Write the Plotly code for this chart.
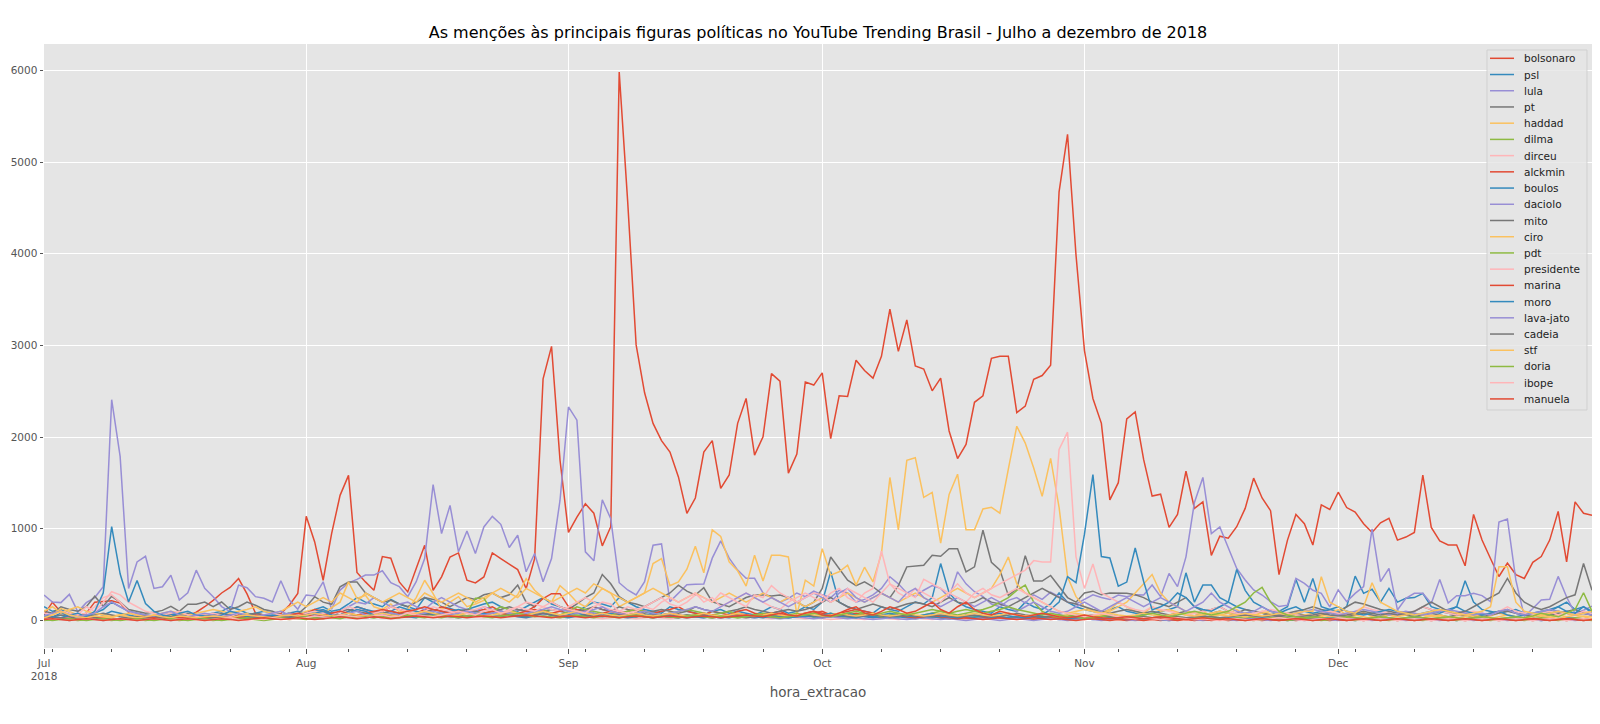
import pandas as pd
import plotly.graph_objects as go

dates = pd.date_range("2018-07-01", "2018-12-31", freq="D")

bolsonaro = [
    60, 200, 90, 40, 50, 80, 200, 210, 215, 190,
    90, 60, 40, 50, 60, 70, 40, 50, 90, 150,
    220, 300, 360, 457, 290, 80, 60, 50, 76, 167,
    294, 1136, 857, 439, 947, 1365, 1583, 523, 421, 330,
    697, 679, 421, 312, 566, 820, 330, 476, 693, 737,
    439, 410, 475, 737, 675, 613, 555, 348, 675, 2636,
    2990, 1750, 960, 1127, 1273, 1170, 814, 1023, 5983, 4572,
    3006, 2484, 2150, 1962, 1837, 1566, 1169, 1336, 1837, 1962,
    1440, 1587, 2150, 2422, 1804, 2004, 2693, 2610, 1607, 1816,
    2601, 2568, 2701, 1983, 2451, 2443, 2839, 2726, 2643, 2881,
    3395, 2935, 3278, 2777, 2743, 2505, 2643, 2067, 1766, 1921,
    2380, 2451, 2860, 2881, 2881, 2267, 2338, 2630, 2672, 2785,
    4676, 5303, 3987, 2944, 2422, 2150, 1315, 1503, 2200, 2276,
    1754, 1357, 1378, 1015, 1157, 1628, 1223, 1294, 710, 919,
    898, 1023, 1223, 1553, 1336, 1198, 501, 877, 1157, 1056,
    823, 1261, 1211, 1399, 1232, 1182, 1056, 960, 1065, 1115,
    877, 910, 960, 1587, 1015, 868, 823, 823, 597, 1157,
    877, 676, 480, 626, 501, 459, 635, 697, 877, 1190,
    639, 1294, 1169, 1148]

psl = [
    150, 100, 120, 80, 60, 50, 80, 120, 200, 150,
    100, 80, 60, 50, 40, 60, 80, 50, 40, 60,
    80, 100, 150, 120, 80, 60, 50, 40, 60, 80,
    100, 80, 120, 150, 100, 120, 180, 250, 200, 180,
    150, 230, 180, 150, 120, 250, 200, 150, 130, 100,
    120, 150, 180, 200, 150, 120, 100, 150, 200, 250,
    180, 150, 120, 100, 150, 200, 180, 150, 250, 200,
    150, 120, 100, 80, 150, 120, 100, 80, 60, 100,
    120, 80, 100, 80, 60, 100, 150, 120, 80, 100,
    150, 120, 200, 531, 200, 150, 120, 100, 80, 150,
    120, 100, 150, 200, 180, 250, 621, 300, 200, 150,
    120, 100, 80, 150, 120, 100, 200, 150, 120, 180,
    300, 200, 150, 120, 100, 80, 120, 150, 100, 80,
    60, 80, 100, 120, 150, 520, 200, 386, 386, 250,
    200, 150, 120, 100, 80, 60, 100, 150, 447, 200,
    459, 150, 120, 100, 150, 484, 296, 340, 200, 350,
    200, 242, 250, 296, 150, 120, 100, 150, 433, 200,
    120, 100, 80, 100, 120, 80, 60, 80, 100, 150,
    200, 120, 150, 80]

lula = [
    278, 202, 195, 285, 94, 195, 250, 368, 2408, 1790,
    350, 639, 700, 350, 368, 494, 224, 303, 549, 350,
    260, 152, 97, 386, 357, 260, 242, 202, 433, 224,
    123, 278, 267, 422, 123, 332, 411, 448, 495, 495,
    542, 412, 369, 260, 423, 676, 1483, 948, 1255, 749,
    977, 731, 1020, 1136, 1049, 796, 930, 532, 731, 423,
    676, 1309, 2329, 2185, 749, 651, 1317, 1110, 412, 333,
    278, 423, 821, 835, 206, 300, 390, 395, 398, 680,
    868, 680, 550, 460, 460, 300, 250, 200, 240, 300,
    260, 320, 280, 250, 330, 300, 200, 230, 280, 350,
    477, 400, 300, 260, 330, 380, 350, 250, 531, 400,
    314, 260, 180, 150, 220, 250, 190, 280, 230, 310,
    260, 200, 180, 230, 280, 250, 230, 278, 260, 280,
    278, 387, 260, 513, 369, 694, 1288, 1560, 948, 1020,
    800, 568, 441, 333, 278, 206, 152, 167, 459, 405,
    329, 296, 148, 333, 206, 296, 369, 999, 423, 568,
    115, 242, 296, 296, 185, 447, 191, 271, 271, 296,
    271, 206, 1074, 1107, 441, 43, 130, 224, 231, 481,
    256, 76, 112, 155]

pt = [
    100, 80, 150, 120, 100, 150, 264, 155, 264, 200,
    120, 100, 80, 90, 110, 155, 100, 177, 177, 202,
    150, 202, 120, 150, 202, 166, 120, 100, 60, 80,
    70, 150, 260, 200, 177, 368, 419, 420, 300, 250,
    200, 220, 180, 150, 200, 250, 230, 200, 150, 200,
    250, 230, 280, 300, 250, 280, 386, 200, 150, 250,
    200, 150, 120, 180, 250, 300, 502, 401, 260, 200,
    180, 150, 200, 250, 300, 386, 321, 278, 357, 202,
    180, 150, 200, 250, 278, 278, 267, 278, 250, 200,
    150, 200, 350, 693, 567, 440, 380, 422, 368, 296,
    250, 380, 585, 592, 603, 711, 700, 783, 783, 531,
    585, 985, 635, 552, 274, 346, 707, 430, 430, 491,
    372, 250, 200, 300, 320, 280, 300, 300, 296, 280,
    250, 200, 180, 150, 200, 250, 150, 100, 120, 150,
    100, 80, 120, 100, 80, 60, 50, 80, 100, 120,
    150, 120, 100, 80, 150, 200, 180, 150, 120, 100,
    80, 60, 100, 150, 120, 100, 80, 60, 50, 40,
    60, 80, 100, 120, 80, 60, 40, 50, 60, 80,
    100, 120, 80, 60]

haddad = [
    20, 60, 130, 100, 60, 40, 30, 40, 50, 60,
    40, 30, 60, 40, 30, 50, 40, 30, 40, 60,
    50, 40, 30, 60, 80, 40, 30, 50, 40, 80,
    60, 100, 120, 80, 140, 200, 421, 240, 276, 150,
    120, 180, 90, 120, 250, 439, 294, 120, 200, 260,
    150, 180, 220, 300, 250, 200, 280, 457, 330, 250,
    200, 380, 300, 200, 150, 250, 350, 300, 150, 200,
    250, 300, 621, 675, 380, 420, 560, 809, 520, 989,
    917, 639, 542, 375, 711, 430, 711, 711, 693, 61,
    440, 375, 783, 495, 531, 603, 386, 581, 422, 729,
    1560, 989, 1747, 1776, 1343, 1397, 845, 1375, 1596, 989,
    989, 1216, 1235, 1170, 1650, 2119, 1935, 1664, 1354, 1769,
    1235, 477, 260, 150, 100, 80, 120, 200, 150, 100,
    80, 150, 100, 120, 90, 60, 80, 100, 50, 60,
    80, 120, 60, 40, 100, 70, 50, 80, 60, 40,
    60, 40, 80, 120, 60, 50, 90, 40, 30, 60,
    40, 80, 50, 30, 60, 40, 30, 50, 70, 40,
    30, 50, 80, 60, 40, 30, 50, 40, 30, 60,
    40, 30, 50, 40]

dilma = [
    10, 20, 30, 20, 10, 20, 40, 30, 20, 10,
    20, 30, 20, 10, 20, 30, 40, 30, 20, 30,
    40, 30, 20, 30, 40, 30, 20, 30, 20, 10,
    20, 30, 40, 50, 40, 30, 50, 60, 40, 30,
    40, 60, 50, 40, 60, 80, 60, 40, 50, 60,
    80, 242, 242, 100, 60, 80, 60, 40, 60, 80,
    60, 40, 60, 80, 120, 80, 60, 40, 60, 50,
    40, 60, 50, 40, 30, 40, 60, 50, 40, 30,
    40, 50, 30, 40, 60, 50, 40, 30, 40, 50,
    60, 40, 30, 50, 40, 30, 40, 60, 50, 40,
    30, 40, 50, 40, 30, 40, 50, 60, 40, 30,
    40, 50, 60, 40, 30, 40, 50, 40, 30, 40,
    30, 40, 50, 30, 20, 30, 40, 30, 20, 30,
    40, 30, 20, 30, 40, 30, 20, 30, 40, 30,
    20, 30, 40, 30, 20, 30, 40, 30, 20, 30,
    40, 30, 20, 30, 40, 30, 20, 10, 20, 30,
    20, 30, 40, 30, 20, 30, 20, 10, 20, 30,
    20, 10, 20, 30, 20, 10, 20, 30, 20, 10,
    20, 30, 20, 10]

dirceu = [
    20, 30, 20, 40, 60, 80, 150, 250, 280, 200,
    100, 60, 40, 30, 20, 30, 20, 10, 20, 30,
    20, 10, 20, 30, 40, 30, 20, 30, 40, 30,
    20, 30, 40, 50, 40, 30, 40, 50, 60, 40,
    30, 40, 50, 40, 30, 50, 60, 40, 30, 40,
    50, 40, 30, 40, 60, 50, 40, 30, 40, 50,
    40, 30, 40, 50, 40, 30, 20, 30, 40, 30,
    20, 30, 40, 30, 20, 30, 40, 50, 40, 30,
    40, 50, 40, 30, 40, 30, 20, 30, 40, 30,
    20, 30, 20, 10, 20, 30, 20, 10, 20, 30,
    20, 10, 20, 30, 20, 10, 20, 30, 20, 10,
    20, 10, 20, 30, 20, 10, 20, 30, 20, 10,
    20, 30, 20, 10, 20, 30, 20, 10, 20, 30,
    20, 10, 20, 30, 20, 10, 0, 10, 20, 10,
    0, 10, 20, 10, 0, 10, 20, 10, 0, 10,
    20, 10, 0, 10, 20, 10, 0, 10, 20, 10,
    0, 10, 20, 10, 0, 10, 20, 10, 0, 10,
    20, 10, 0, 10, 20, 10, 0, 10, 20, 10,
    0, 10, 20, 10]

alckmin = [
    20, 10, 30, 20, 10, 20, 30, 20, 10, 20,
    30, 20, 10, 20, 30, 40, 30, 20, 30, 40,
    50, 40, 30, 60, 50, 40, 30, 50, 60, 40,
    50, 80, 120, 100, 80, 60, 100, 150, 120, 80,
    100, 150, 120, 100, 80, 120, 100, 150, 120, 100,
    80, 100, 120, 150, 100, 80, 120, 100, 150, 240,
    293, 293, 150, 120, 100, 150, 120, 100, 80, 100,
    120, 100, 80, 100, 120, 150, 100, 80, 60, 100,
    80, 60, 100, 120, 80, 60, 80, 100, 60, 40,
    60, 80, 100, 60, 40, 60, 80, 60, 40, 30,
    40, 60, 40, 30, 50, 40, 30, 20, 40, 30,
    20, 30, 40, 30, 20, 30, 20, 10, 20, 30,
    20, 10, 20, 30, 20, 10, 20, 10, 0, 10,
    20, 10, 0, 10, 20, 10, 0, 10, 20, 10,
    0, 10, 20, 10, 0, 10, 20, 10, 0, 10,
    20, 10, 0, 10, 20, 10, 0, 10, 20, 10,
    0, 10, 20, 10, 0, 10, 20, 10, 0, 10,
    20, 10, 0, 10, 20, 10, 0, 10, 20, 10,
    0, 10, 20, 10]

boulos = [
    60, 40, 80, 60, 40, 60, 80, 60, 100, 80,
    60, 40, 30, 40, 60, 80, 60, 40, 30, 40,
    60, 80, 60, 40, 60, 80, 100, 80, 60, 40,
    60, 80, 100, 120, 80, 60, 100, 150, 120, 100,
    80, 100, 150, 120, 100, 80, 60, 80, 100, 120,
    100, 80, 60, 80, 100, 80, 60, 40, 60, 80,
    60, 40, 60, 80, 60, 40, 60, 80, 60, 40,
    60, 40, 30, 40, 60, 40, 30, 40, 60, 40,
    30, 40, 60, 40, 30, 40, 60, 40, 30, 40,
    60, 40, 30, 40, 60, 80, 60, 40, 30, 40,
    30, 40, 30, 20, 30, 40, 30, 20, 30, 40,
    30, 20, 30, 40, 30, 20, 30, 40, 30, 20,
    10, 20, 30, 20, 10, 20, 30, 20, 10, 20,
    30, 20, 10, 0, 10, 20, 30, 20, 10, 20,
    30, 20, 10, 20, 30, 20, 10, 0, 10, 20,
    10, 20, 30, 20, 10, 0, 10, 20, 30, 20,
    10, 20, 30, 20, 10, 20, 10, 0, 10, 20,
    30, 20, 10, 20, 30, 20, 10, 0, 10, 20,
    30, 20, 10, 20]

daciolo = [
    10, 20, 10, 0, 10, 20, 10, 0, 10, 20,
    10, 0, 10, 20, 10, 0, 10, 20, 30, 20,
    30, 40, 30, 20, 40, 60, 40, 30, 50, 80,
    60, 40, 60, 80, 60, 100, 150, 200, 180, 250,
    200, 150, 180, 200, 150, 120, 200, 250, 200, 150,
    120, 100, 150, 120, 100, 80, 120, 100, 80, 60,
    80, 60, 50, 80, 100, 80, 60, 50, 80, 60,
    50, 40, 60, 50, 40, 30, 50, 40, 30, 40,
    30, 40, 60, 40, 30, 40, 30, 20, 30, 40,
    30, 20, 30, 40, 30, 20, 30, 20, 10, 20,
    30, 20, 10, 20, 30, 20, 10, 20, 10, 0,
    10, 20, 10, 0, 10, 20, 10, 0, 10, 20,
    10, 0, 10, 20, 10, 0, 10, 20, 10, 0,
    10, 20, 10, 0, 10, 20, 10, 0, 10, 20,
    10, 0, 10, 20, 10, 0, 10, 20, 10, 0,
    10, 20, 10, 0, 10, 20, 10, 0, 10, 20,
    10, 0, 10, 20, 10, 0, 10, 20, 10, 0,
    10, 20, 10, 0, 10, 20, 10, 0, 10, 20,
    10, 0, 10, 20]

mito = [
    20, 40, 60, 40, 20, 40, 60, 80, 60, 40,
    30, 40, 60, 40, 30, 40, 60, 80, 60, 40,
    60, 80, 60, 40, 60, 80, 60, 40, 30, 40,
    60, 80, 60, 40, 60, 100, 120, 100, 80, 60,
    80, 100, 80, 60, 80, 100, 120, 100, 80, 100,
    120, 100, 80, 100, 120, 150, 120, 100, 80, 100,
    120, 100, 80, 100, 120, 150, 120, 100, 150, 120,
    100, 80, 100, 120, 100, 80, 100, 150, 120, 100,
    80, 100, 120, 150, 120, 100, 80, 100, 120, 100,
    120, 150, 200, 250, 200, 150, 120, 150, 180, 150,
    120, 150, 180, 200, 180, 150, 200, 250, 200, 180,
    200, 250, 200, 180, 150, 200, 250, 300, 350, 300,
    250, 200, 180, 150, 120, 100, 80, 100, 120, 100,
    80, 100, 80, 60, 80, 100, 80, 60, 80, 100,
    80, 60, 80, 100, 80, 60, 40, 60, 80, 60,
    40, 60, 80, 60, 40, 60, 80, 60, 40, 60,
    80, 60, 40, 60, 80, 60, 40, 60, 80, 60,
    40, 60, 80, 100, 80, 60, 40, 60, 80, 100,
    80, 60, 80, 60]

ciro = [
    100, 150, 80, 120, 150, 100, 80, 60, 40, 60,
    80, 60, 40, 60, 80, 100, 80, 60, 80, 100,
    120, 100, 80, 100, 120, 150, 100, 80, 100, 150,
    200, 150, 200, 250, 200, 300, 250, 200, 300, 250,
    200, 250, 300, 250, 200, 300, 250, 200, 250, 300,
    250, 200, 250, 300, 350, 300, 250, 350, 300, 250,
    200, 250, 300, 350, 300, 400, 350, 300, 250, 200,
    250, 300, 350, 300, 250, 200, 250, 300, 250, 200,
    250, 300, 250, 200, 250, 300, 250, 200, 250, 200,
    150, 200, 250, 200, 250, 300, 250, 200, 250, 300,
    250, 200, 250, 300, 250, 200, 250, 300, 350, 300,
    250, 300, 350, 500, 693, 400, 300, 250, 200, 150,
    100, 80, 100, 120, 100, 80, 100, 150, 200, 300,
    400, 502, 300, 200, 150, 100, 80, 60, 80, 100,
    80, 60, 40, 60, 80, 100, 80, 60, 40, 60,
    80, 60, 40, 60, 80, 60, 40, 20, 40, 60,
    40, 60, 80, 60, 40, 60, 40, 20, 40, 60,
    40, 20, 40, 60, 40, 20, 40, 60, 40, 20,
    40, 60, 40, 20]

pdt = [
    0, 10, 20, 10, 0, 10, 20, 10, 0, 10,
    20, 10, 0, 10, 20, 10, 0, 10, 20, 10,
    0, 10, 20, 30, 20, 10, 0, 10, 20, 30,
    20, 10, 30, 40, 30, 20, 40, 60, 40, 30,
    50, 40, 30, 60, 80, 60, 40, 30, 50, 60,
    40, 60, 80, 100, 150, 120, 80, 60, 100, 120,
    80, 60, 100, 150, 120, 100, 80, 60, 80, 100,
    120, 100, 80, 60, 80, 100, 120, 100, 80, 60,
    80, 100, 60, 40, 60, 80, 60, 40, 60, 80,
    60, 40, 60, 80, 60, 40, 60, 80, 60, 40,
    60, 80, 60, 40, 60, 80, 100, 80, 60, 80,
    100, 120, 150, 200, 250, 329, 386, 200, 100, 60,
    40, 60, 40, 20, 40, 60, 40, 20, 30, 40,
    20, 30, 40, 20, 10, 20, 30, 20, 10, 20,
    10, 20, 10, 0, 10, 20, 10, 0, 10, 20,
    10, 0, 10, 20, 10, 0, 10, 20, 10, 0,
    10, 20, 10, 0, 10, 20, 10, 0, 10, 20,
    10, 0, 10, 20, 10, 0, 10, 20, 10, 0,
    10, 20, 10, 0]

presidente = [
    80, 60, 100, 80, 60, 150, 100, 200, 314, 280,
    200, 150, 100, 80, 60, 80, 100, 60, 40, 60,
    80, 60, 40, 80, 60, 40, 60, 80, 60, 40,
    60, 80, 100, 80, 60, 100, 150, 120, 100, 80,
    100, 150, 120, 100, 80, 100, 150, 120, 100, 80,
    100, 120, 150, 100, 80, 120, 150, 200, 180, 150,
    120, 100, 150, 200, 250, 200, 150, 120, 100, 80,
    100, 150, 120, 200, 250, 200, 250, 300, 200, 250,
    150, 200, 250, 300, 250, 200, 150, 120, 200, 250,
    300, 250, 200, 300, 350, 250, 200, 300, 350, 758,
    400, 300, 250, 350, 300, 250, 200, 300, 400, 300,
    250, 300, 350, 400, 450, 500, 550, 653, 639, 639,
    1866, 2054, 693, 350, 617, 300, 250, 200, 150, 120,
    100, 150, 120, 100, 80, 60, 80, 100, 120, 150,
    100, 80, 60, 80, 100, 120, 100, 80, 60, 50,
    60, 80, 100, 80, 60, 100, 150, 120, 100, 80,
    60, 80, 100, 150, 120, 100, 80, 60, 80, 100,
    80, 60, 100, 150, 100, 80, 60, 80, 100, 60,
    80, 60, 100, 80]

marina = [
    20, 30, 20, 10, 20, 30, 40, 30, 20, 10,
    20, 30, 40, 30, 20, 30, 40, 30, 20, 30,
    40, 30, 20, 30, 40, 60, 40, 30, 40, 60,
    80, 60, 40, 60, 80, 100, 80, 60, 80, 100,
    120, 100, 80, 100, 120, 150, 120, 100, 80, 100,
    80, 60, 80, 100, 80, 60, 80, 100, 120, 100,
    80, 100, 120, 100, 80, 60, 80, 100, 80, 60,
    80, 60, 40, 60, 80, 60, 40, 60, 80, 60,
    40, 60, 80, 60, 40, 60, 80, 60, 40, 60,
    80, 100, 80, 60, 80, 100, 120, 100, 80, 60,
    40, 60, 40, 30, 40, 60, 40, 30, 20, 30,
    20, 10, 20, 30, 20, 10, 20, 30, 20, 10,
    20, 10, 0, 10, 20, 10, 0, 10, 20, 10,
    0, 10, 20, 10, 0, 10, 20, 10, 0, 10,
    20, 10, 0, 10, 20, 10, 0, 10, 20, 10,
    0, 10, 20, 10, 0, 10, 20, 10, 0, 10,
    20, 10, 0, 10, 20, 10, 0, 10, 20, 10,
    0, 10, 20, 10, 0, 10, 20, 10, 0, 10,
    20, 10, 0, 10]

moro = [
    50, 40, 30, 60, 80, 40, 100, 300, 1025, 509,
    202, 437, 184, 100, 60, 40, 80, 100, 60, 50,
    40, 60, 100, 80, 40, 30, 50, 60, 40, 30,
    40, 60, 80, 100, 60, 40, 80, 120, 100, 60,
    50, 80, 60, 40, 30, 60, 80, 50, 40, 30,
    40, 60, 80, 50, 40, 60, 40, 30, 50, 80,
    60, 40, 30, 50, 40, 60, 80, 50, 40, 30,
    40, 60, 80, 50, 40, 30, 50, 40, 30, 50,
    40, 30, 50, 60, 40, 30, 50, 40, 30, 40,
    50, 40, 60, 80, 50, 40, 30, 50, 40, 60,
    80, 60, 50, 40, 60, 80, 50, 40, 30, 60,
    50, 40, 60, 80, 50, 40, 30, 50, 60, 120,
    200, 477, 412, 942, 1592, 697, 682, 375, 419, 791,
    426, 116, 150, 200, 300, 250, 150, 120, 100, 150,
    200, 556, 329, 200, 150, 100, 80, 120, 150, 100,
    80, 100, 120, 150, 100, 80, 60, 80, 100, 120,
    100, 80, 60, 80, 100, 80, 120, 150, 100, 80,
    60, 80, 100, 60, 40, 60, 80, 100, 120, 150,
    100, 80, 150, 100]

lava_jato = [
    50, 80, 100, 60, 40, 60, 80, 150, 200, 150,
    100, 80, 60, 50, 80, 100, 60, 40, 60, 80,
    60, 40, 60, 80, 60, 40, 60, 80, 100, 60,
    40, 60, 80, 60, 40, 60, 80, 100, 60, 40,
    60, 80, 60, 40, 60, 80, 100, 80, 60, 80,
    100, 80, 60, 80, 100, 80, 60, 80, 100, 120,
    150, 120, 100, 80, 100, 120, 150, 100, 80, 60,
    80, 100, 80, 60, 80, 100, 120, 150, 120, 100,
    150, 200, 250, 300, 250, 200, 250, 200, 150, 200,
    250, 300, 250, 200, 300, 350, 250, 200, 250, 300,
    250, 200, 300, 350, 250, 200, 150, 200, 250, 200,
    150, 200, 250, 200, 150, 100, 150, 200, 150, 100,
    80, 100, 150, 200, 150, 100, 150, 200, 250, 200,
    150, 200, 250, 200, 150, 100, 150, 200, 300, 200,
    150, 100, 80, 100, 150, 100, 80, 60, 80, 100,
    120, 100, 80, 60, 80, 100, 120, 100, 80, 60,
    80, 100, 80, 60, 80, 100, 120, 100, 80, 60,
    80, 60, 100, 120, 80, 60, 80, 100, 120, 100,
    80, 60, 80, 60]

cadeia = [
    10, 20, 30, 20, 10, 20, 30, 20, 10, 20,
    30, 40, 30, 20, 30, 40, 50, 40, 30, 20,
    30, 40, 30, 20, 30, 40, 30, 20, 30, 40,
    50, 40, 30, 40, 50, 60, 50, 40, 30, 40,
    50, 60, 50, 40, 50, 60, 80, 60, 50, 40,
    50, 60, 50, 40, 50, 60, 50, 40, 60, 80,
    60, 50, 40, 50, 60, 50, 40, 50, 60, 50,
    40, 50, 60, 50, 40, 50, 60, 50, 40, 30,
    40, 50, 40, 30, 40, 50, 40, 30, 40, 50,
    60, 50, 40, 50, 60, 50, 40, 50, 60, 50,
    40, 50, 60, 50, 40, 50, 60, 50, 40, 50,
    60, 50, 40, 50, 60, 80, 60, 50, 40, 50,
    60, 50, 40, 50, 60, 50, 40, 30, 40, 50,
    40, 30, 40, 50, 40, 30, 40, 50, 40, 30,
    40, 50, 60, 50, 40, 50, 60, 50, 40, 50,
    60, 80, 60, 50, 60, 80, 100, 80, 60, 80,
    60, 80, 100, 150, 200, 150, 100, 80, 100, 150,
    200, 250, 300, 459, 300, 200, 150, 120, 150, 200,
    250, 280, 621, 330]

stf = [
    30, 60, 100, 60, 40, 30, 50, 40, 30, 60,
    40, 30, 40, 60, 40, 30, 50, 40, 30, 40,
    50, 40, 30, 50, 60, 50, 40, 30, 50, 60,
    50, 60, 80, 60, 50, 60, 80, 60, 50, 60,
    80, 60, 50, 60, 80, 100, 80, 60, 50, 60,
    80, 60, 50, 60, 80, 100, 80, 60, 80, 100,
    80, 60, 80, 100, 80, 60, 80, 60, 50, 60,
    80, 60, 50, 60, 80, 60, 50, 60, 80, 60,
    50, 60, 80, 60, 50, 60, 80, 60, 50, 60,
    80, 60, 50, 60, 80, 60, 50, 60, 80, 60,
    50, 60, 80, 60, 50, 60, 80, 60, 50, 60,
    80, 60, 50, 60, 80, 60, 50, 60, 80, 60,
    50, 60, 80, 60, 50, 60, 80, 60, 50, 60,
    80, 60, 50, 60, 80, 60, 50, 60, 80, 60,
    50, 60, 80, 60, 50, 60, 80, 60, 80, 100,
    100, 477, 200, 150, 100, 80, 150, 412, 200, 150,
    100, 80, 60, 80, 100, 120, 100, 80, 60, 80,
    100, 150, 585, 585, 200, 100, 80, 60, 80, 100,
    80, 60, 80, 100]

doria = [
    10, 0, 10, 20, 10, 0, 10, 20, 10, 0,
    10, 20, 10, 0, 10, 20, 10, 0, 10, 20,
    10, 0, 10, 20, 30, 20, 10, 20, 30, 20,
    30, 40, 30, 20, 40, 50, 40, 30, 40, 50,
    40, 30, 50, 60, 40, 30, 50, 60, 40, 30,
    50, 60, 40, 30, 50, 60, 80, 60, 40, 50,
    40, 30, 50, 60, 40, 30, 50, 40, 30, 50,
    60, 40, 30, 50, 40, 30, 50, 60, 40, 30,
    50, 40, 30, 40, 60, 50, 40, 30, 40, 50,
    60, 80, 60, 40, 60, 80, 100, 80, 60, 80,
    100, 80, 60, 80, 100, 120, 100, 80, 100, 120,
    100, 80, 100, 120, 150, 120, 100, 80, 60, 80,
    60, 40, 60, 40, 30, 40, 60, 40, 30, 40,
    60, 80, 60, 40, 60, 80, 100, 80, 60, 80,
    100, 150, 200, 300, 361, 200, 100, 60, 40, 30,
    40, 30, 20, 30, 40, 30, 20, 30, 40, 30,
    20, 30, 40, 30, 20, 30, 40, 30, 20, 30,
    40, 30, 20, 30, 40, 30, 50, 80, 60, 40,
    80, 120, 303, 100]

ibope = [
    10, 20, 10, 0, 10, 20, 10, 0, 10, 20,
    10, 0, 10, 20, 10, 0, 10, 20, 10, 0,
    10, 20, 30, 10, 0, 20, 10, 30, 20, 10,
    20, 30, 50, 40, 30, 60, 50, 40, 30, 50,
    60, 40, 50, 80, 60, 50, 40, 60, 80, 100,
    80, 60, 100, 120, 80, 100, 150, 120, 100, 150,
    200, 150, 120, 100, 80, 150, 200, 180, 100, 150,
    120, 150, 200, 250, 180, 150, 200, 280, 250, 200,
    300, 250, 200, 150, 280, 250, 380, 300, 250, 200,
    250, 300, 280, 200, 250, 350, 300, 250, 200, 300,
    400, 350, 300, 250, 450, 400, 350, 300, 250, 200,
    300, 350, 280, 250, 300, 350, 300, 250, 200, 150,
    100, 80, 60, 40, 60, 80, 60, 40, 30, 20,
    30, 20, 10, 20, 30, 20, 10, 20, 10, 0,
    10, 20, 10, 0, 10, 20, 30, 20, 10, 0,
    10, 20, 10, 30, 20, 10, 0, 10, 20, 10,
    0, 10, 20, 10, 0, 10, 20, 10, 0, 10,
    20, 10, 0, 10, 20, 10, 0, 10, 20, 10,
    0, 10, 20, 10]

manuela = [
    10, 20, 10, 0, 10, 20, 10, 0, 10, 20,
    10, 0, 10, 20, 10, 0, 10, 20, 10, 0,
    10, 20, 10, 0, 10, 20, 30, 20, 10, 20,
    30, 20, 10, 20, 30, 40, 30, 20, 30, 40,
    30, 20, 30, 40, 50, 40, 30, 40, 50, 40,
    30, 40, 50, 40, 30, 40, 50, 60, 50, 40,
    30, 40, 50, 40, 30, 40, 50, 40, 30, 40,
    50, 40, 30, 40, 50, 40, 30, 40, 50, 40,
    30, 40, 50, 60, 50, 40, 60, 80, 60, 50,
    80, 100, 60, 50, 80, 120, 150, 80, 60, 100,
    150, 120, 80, 100, 150, 200, 120, 80, 150, 200,
    120, 80, 60, 100, 80, 60, 40, 60, 80, 60,
    40, 30, 40, 60, 40, 30, 20, 30, 40, 30,
    20, 30, 40, 30, 20, 10, 20, 30, 20, 10,
    20, 10, 0, 10, 20, 10, 0, 10, 20, 10,
    0, 10, 20, 10, 0, 10, 20, 10, 0, 10,
    20, 10, 0, 10, 20, 10, 0, 10, 20, 10,
    0, 10, 20, 10, 0, 10, 20, 10, 0, 10,
    20, 10, 0, 10]

series_names = ["bolsonaro", "psl", "lula", "pt", "haddad", "dilma", "dirceu",
                "alckmin", "boulos", "daciolo", "mito", "ciro", "pdt",
                "presidente", "marina", "moro", "lava-jato", "cadeia", "stf",
                "doria", "ibope", "manuela"]
series_values = [bolsonaro, psl, lula, pt, haddad, dilma, dirceu,
                 alckmin, boulos, daciolo, mito, ciro, pdt,
                 presidente, marina, moro, lava_jato, cadeia, stf,
                 doria, ibope, manuela]

palette = ["#E24A33", "#348ABD", "#988ED5", "#777777", "#FBC15E", "#8EBA42", "#FFB5B8"]

bad = [(n, len(v)) for n, v in zip(series_names, series_values) if len(v) != len(dates)]
if bad:
    raise SystemExit("length mismatch: %s (expected %d)" % (bad, len(dates)))

month_ticks = ["2018-07-01", "2018-08-01", "2018-09-01", "2018-10-01", "2018-11-01", "2018-12-01"]
month_labels = ["Jul<br>2018", "Aug", "Sep", "Oct", "Nov", "Dec"]
y_ticks = [0, 1000, 2000, 3000, 4000, 5000, 6000]

# The page body keeps its default 8px margin, so the figure is 8px smaller
# and all positions below are measured from that origin.
FIG_W, FIG_H = 1592, 716
M_L, M_R, M_T, M_B = 36, 8, 36, 76
PLOT_W = FIG_W - M_L - M_R
PLOT_H = FIG_H - M_T - M_B
font_family = "DejaVu Sans"


def px_x(px):
    return (px - M_L) / PLOT_W


def px_y(py):
    return (FIG_H - M_B - py) / PLOT_H


fig = go.Figure()
for i, (name, vals) in enumerate(zip(series_names, series_values)):
    fig.add_trace(go.Scatter(
        x=dates, y=vals, mode="lines", name=name, showlegend=False,
        line=dict(color=palette[i % len(palette)], width=1.5),
    ))

# legend box in the style of the matplotlib ggplot legend (compact rows)
LEG_L, LEG_R, LEG_T, LEG_B = 1479, 1579, 42, 402
ROW0, ROW_STEP = 50.3, 16.22
shapes = [dict(type="rect", xref="paper", yref="paper",
               x0=px_x(LEG_L), x1=px_x(LEG_R), y0=px_y(LEG_B), y1=px_y(LEG_T),
               fillcolor="rgba(229,229,229,0.8)",
               line=dict(color="rgba(204,204,204,0.8)", width=1), layer="above")]
annotations = []
for i, name in enumerate(series_names):
    yy = px_y(ROW0 + ROW_STEP * i)
    shapes.append(dict(type="line", xref="paper", yref="paper",
                       x0=px_x(1482), x1=px_x(1506), y0=yy, y1=yy,
                       line=dict(color=palette[i % len(palette)], width=1.5), layer="above"))
    annotations.append(dict(xref="paper", yref="paper", x=px_x(1514), y=yy,
                            xanchor="left", yanchor="middle", showarrow=False, text=name,
                            font=dict(family=font_family, size=10.5, color="#222222")))

fig.update_layout(
    width=FIG_W, height=FIG_H,
    margin=dict(l=M_L, r=M_R, t=M_T, b=M_B),
    paper_bgcolor="white",
    plot_bgcolor="#E5E5E5",
    font=dict(family=font_family, size=10.5, color="#555555"),
    title=dict(
        text="As menções às principais figuras políticas no YouTube Trending Brasil - Julho a dezembro de 2018",
        font=dict(family=font_family, size=16, color="black"),
        x=0.5, xref="paper", xanchor="center",
        y=1 - 24 / FIG_H, yref="container", yanchor="middle",
    ),
    showlegend=False,
    shapes=shapes,
    annotations=annotations,
    xaxis=dict(
        range=["2018-07-01", "2018-12-31"],
        automargin=False,
        tickmode="array", tickvals=month_ticks, ticktext=month_labels,
        ticks="outside", ticklen=5, tickcolor="#555555", tickwidth=1,
        showgrid=True, gridcolor="white", gridwidth=1.2,
        zeroline=False, showline=False,
        minor=dict(tickmode="linear", tick0="2018-07-02", dtick=7 * 24 * 3600 * 1000,
                   ticks="outside", ticklen=2.5, tickcolor="#555555", showgrid=False),
        title=dict(text="hora_extracao", font=dict(family=font_family, size=13.5, color="#555555"),
                   standoff=6),
        tickfont=dict(family=font_family, size=10.5, color="#555555"),
    ),
    yaxis=dict(
        range=[-300, 6288],
        automargin=False,
        tickmode="array", tickvals=y_ticks, ticktext=[str(v) for v in y_ticks],
        ticks="outside", ticklen=3.5, tickcolor="#555555", tickwidth=1,
        showgrid=True, gridcolor="white", gridwidth=1.2,
        zeroline=False, showline=False,
        tickfont=dict(family=font_family, size=10.5, color="#555555"),
    ),
)

fig.write_html("out.html")
